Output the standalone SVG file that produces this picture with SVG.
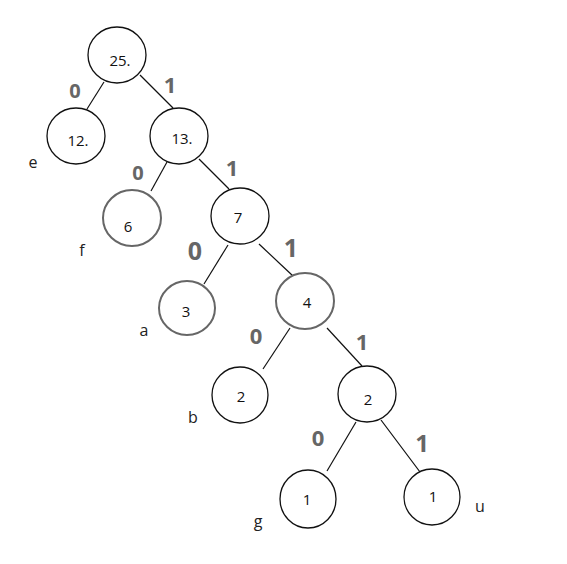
<svg xmlns="http://www.w3.org/2000/svg" width="567" height="564" viewBox="0 0 567 564">
<style>
.n{fill:#fff;stroke:#111;stroke-width:1.3}
.g{fill:#fff;stroke:#666;stroke-width:2}
.t{font-family:"Open Sans","DejaVu Sans",sans-serif;font-size:15px;fill:#111;text-anchor:middle}
.e{font-family:"Open Sans","DejaVu Sans",sans-serif;font-size:20px;font-weight:bold;fill:#666;text-anchor:middle}
.l{font-family:"Open Sans","DejaVu Sans",sans-serif;font-size:16px;fill:#222;text-anchor:middle}
.c{stroke:#111;stroke-width:1.2;fill:none}
</style>
<rect width="567" height="564" fill="#fff"/>
<g id="connectors">
<line class="c" x1="104" y1="82" x2="87" y2="109"/>
<line class="c" x1="140" y1="75" x2="173" y2="108"/>
<line class="c" x1="167" y1="162" x2="151" y2="191"/>
<line class="c" x1="199" y1="159" x2="229" y2="189"/>
<line class="c" x1="228" y1="245" x2="204" y2="284"/>
<line class="c" x1="259" y1="244" x2="293" y2="276"/>
<line class="c" x1="290" y1="328" x2="263" y2="369"/>
<line class="c" x1="327" y1="328" x2="362" y2="366"/>
<line class="c" x1="356" y1="422" x2="327" y2="471"/>
<line class="c" x1="381" y1="420" x2="420" y2="472"/>
</g>
<g id="edge-labels">
<text class="e" x="75" y="98">0</text>
<text class="e" x="170" y="93" style="font-size:22px">1</text>
<text class="e" x="138" y="180">0</text>
<text class="e" x="232" y="176" style="font-size:22px">1</text>
<text class="e" x="195" y="260" style="font-size:25px">0</text>
<text class="e" x="291" y="257" style="font-size:25px">1</text>
<text class="e" x="256" y="344" style="font-size:22px">0</text>
<text class="e" x="362" y="350" style="font-size:22px">1</text>
<text class="e" x="318" y="446" style="font-size:22px">0</text>
<text class="e" x="422" y="452" style="font-size:24px">1</text>
</g>
<g id="n25"><ellipse class="n" cx="117" cy="55" rx="29" ry="28"/><text class="t" x="120" y="66">25.</text></g>
<g id="n12"><ellipse class="n" cx="76" cy="136" rx="29" ry="28"/><text class="t" x="78" y="146">12.</text></g>
<g id="n13"><ellipse class="n" cx="179" cy="136" rx="29" ry="28"/><text class="t" x="182" y="144">13.</text></g>
<g id="n6"><ellipse class="g" cx="132" cy="218" rx="29" ry="28"/><text class="t" x="128" y="232">6</text></g>
<g id="n7"><ellipse class="n" cx="240" cy="216" rx="29" ry="28"/><text class="t" x="238" y="223">7</text></g>
<g id="n3"><ellipse class="g" cx="187" cy="308" rx="28" ry="27"/><text class="t" x="186" y="317">3</text></g>
<g id="n4"><ellipse class="g" cx="305" cy="301" rx="29" ry="28"/><text class="t" x="307" y="308">4</text></g>
<g id="n2b"><ellipse class="n" cx="240" cy="395" rx="28" ry="28"/><text class="t" x="241" y="402">2</text></g>
<g id="n2"><ellipse class="n" cx="367" cy="394" rx="29" ry="28"/><text class="t" x="368" y="405">2</text></g>
<g id="n1g"><ellipse class="n" cx="308" cy="499" rx="28" ry="29"/><text class="t" x="307" y="505">1</text></g>
<g id="n1u"><ellipse class="n" cx="432" cy="497" rx="28" ry="28"/><text class="t" x="433" y="502">1</text></g>
<g id="leaf-labels">
<text class="l" x="33" y="168">e</text>
<text class="l" x="82" y="256">f</text>
<text class="l" x="144" y="336">a</text>
<text class="l" x="193" y="423">b</text>
<text class="l" x="258" y="527">g</text>
<text class="l" x="480" y="512">u</text>
</g>
</svg>
